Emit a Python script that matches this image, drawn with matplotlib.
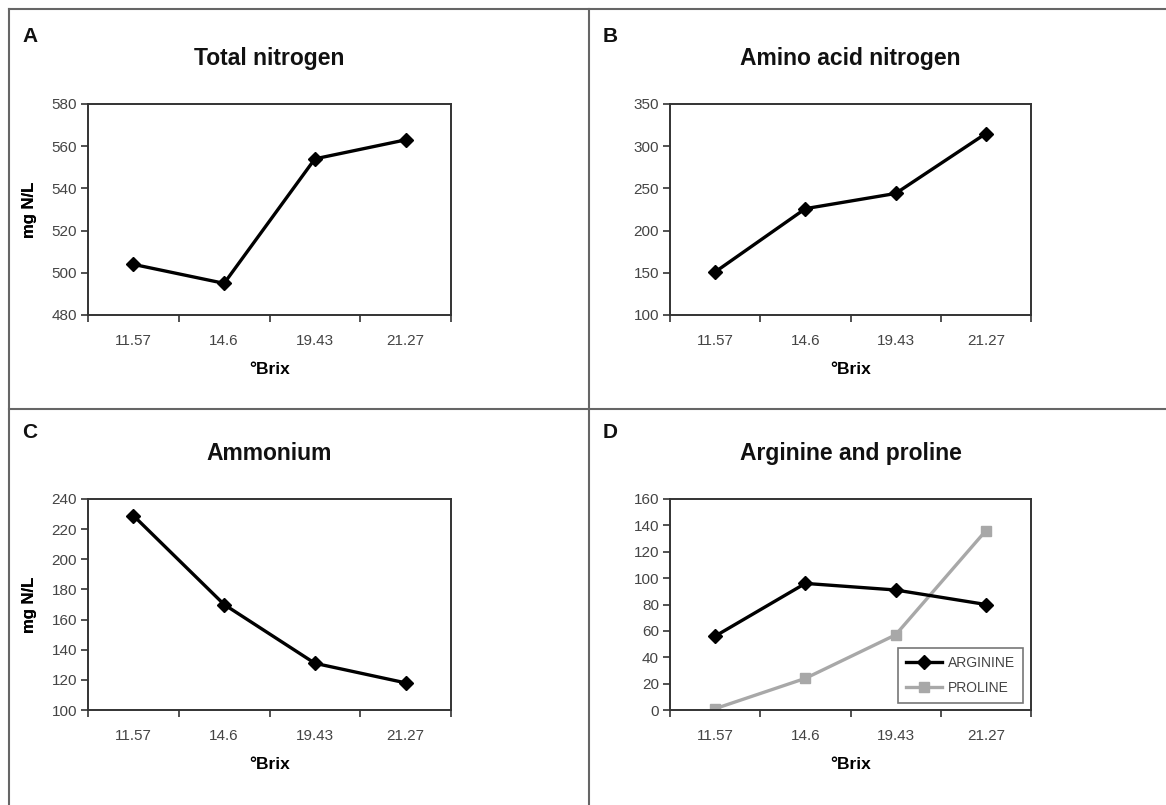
import matplotlib
matplotlib.use("Agg")
import matplotlib.pyplot as plt
from matplotlib.lines import Line2D

plt.rcParams['font.family'] = ['Liberation Sans', 'DejaVu Sans']

# --data--
brix = ["11.57", "14.6", "19.43", "21.27"]
total_n = [504, 495, 554, 563]
amino_n = [151, 226, 244, 315]
ammonium = [229, 170, 131, 118]
arginine = [56, 96, 91, 80]
proline = [1, 24, 57, 136]

titles = ["Total nitrogen", "Amino acid nitrogen", "Ammonium", "Arginine and proline"]
letters = ["A", "B", "C", "D"]
ylims = [(480, 580, 20), (100, 350, 50), (100, 240, 20), (0, 160, 20)]

W, H = 1166, 805
fig = plt.figure(figsize=(W / 100, H / 100), dpi=100)

# panel frame lines (pixels)
def hline(y, x0, x1):
    fig.add_artist(Line2D([x0 / W, x1 / W], [1 - y / H, 1 - y / H], color="#666666", lw=1.5))

def vline(x, y0, y1):
    fig.add_artist(Line2D([x / W, x / W], [1 - y0 / H, 1 - y1 / H], color="#666666", lw=1.5))

hline(9, 9, W)
hline(409, 9, W)
vline(9, 9, H)
vline(589, 9, H)

# axes boxes in pixels: left, top, right, bottom
boxes = [(88, 104, 451, 315), (670, 104, 1031, 315),
         (88, 499, 451, 710), (670, 499, 1031, 710)]
letter_pos = [(22, 37), (603, 37), (22, 432), (603, 432)]
series = [total_n, amino_n, ammonium, None]

xs = list(range(len(brix)))

for i in range(4):
    l, t, r, b = boxes[i]
    ax = fig.add_axes([l / W, 1 - b / H, (r - l) / W, (b - t) / H])
    if series[i] is not None:
        ax.plot(xs, series[i], color="black", lw=2.4, marker="D", ms=7, zorder=3)
    else:
        ax.plot(xs, arginine, color="black", lw=2.4, marker="D", ms=7, zorder=3, label="ARGININE")
        ax.plot(xs, proline, color="#a8a8a8", lw=2.4, marker="s", ms=7, zorder=2, label="PROLINE")
        leg = ax.legend(loc="lower right", frameon=True, fancybox=False, fontsize=10,
                        handlelength=2.6, borderpad=0.6, labelspacing=0.75,
                        bbox_to_anchor=(0.997, 0.0), handletextpad=0.4)
        leg.get_frame().set_edgecolor("#555555")
        leg.get_frame().set_linewidth(1.2)
        for txt in leg.get_texts():
            txt.set_color("#444444")

    lo, hi, step = ylims[i]
    ax.set_ylim(lo, hi)
    ax.set_yticks(list(range(lo, hi + 1, step)))
    ax.set_xlim(-0.5, len(brix) - 0.5)
    ax.set_xticks([x - 0.5 for x in range(len(brix) + 1)])
    ax.set_xticklabels([])
    ax.set_xticks(xs, minor=True)
    ax.set_xticklabels(brix, minor=True)
    ax.tick_params(axis="x", which="minor", length=0, pad=14, labelsize=11, labelcolor="#444444")
    ax.tick_params(axis="x", which="major", length=5, width=1.2, color="#333333", direction="out")
    ax.tick_params(axis="y", length=5, width=1.2, color="#333333", labelsize=11,
                   labelcolor="#444444", pad=3)
    for sp in ax.spines.values():
        sp.set_color("#333333")
        sp.set_linewidth(1.4)

    ax.set_ylabel("mg N/L", fontsize=12, fontweight="bold")
    ax.yaxis.set_label_coords(-(l - 37) / (r - l), 0.5)
    ax.set_xlabel("°Brix", fontsize=12.5, fontweight="bold")
    ax.xaxis.set_label_coords(0.5, -47 / (b - t))

    cx = (l + r) / 2
    fig.text(cx / W, 1 - (t - 46) / H, titles[i], ha="center", va="center",
             fontsize=16.5, fontweight="bold", color="#111111")
    lx, ly = letter_pos[i]
    fig.text(lx / W, 1 - ly / H, letters[i], ha="left", va="center",
             fontsize=15, fontweight="bold", color="#111111")

fig.savefig("out.png", dpi=100)
